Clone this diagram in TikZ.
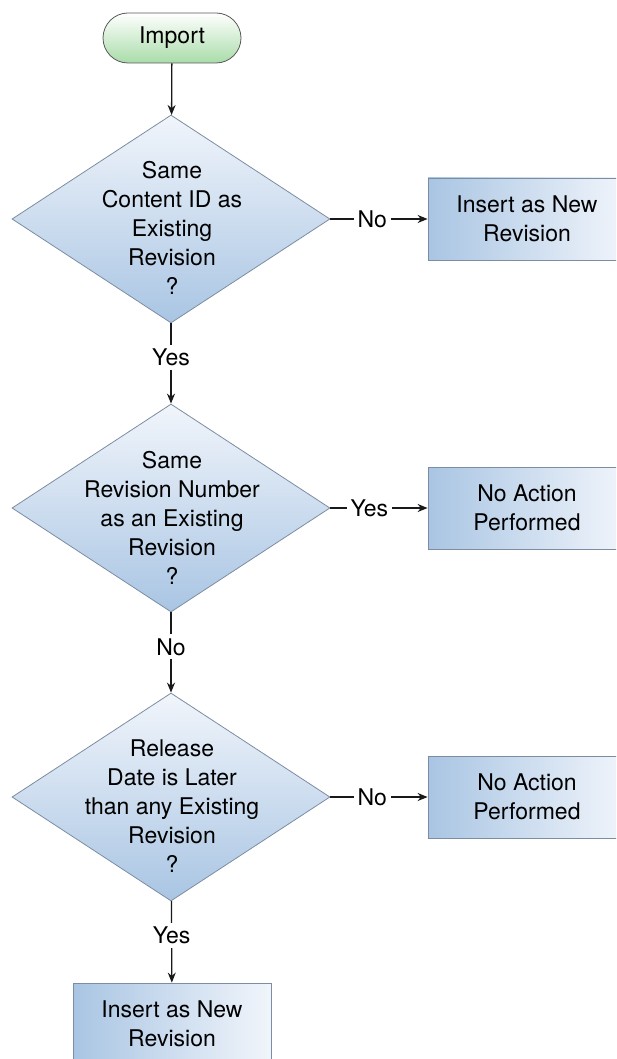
\documentclass[tikz,border=0pt]{standalone}
\usepackage{fontspec}
\setmainfont{TeX Gyre Heros}
\usetikzlibrary{positioning, shapes.geometric, shapes.misc, arrows.meta}
\definecolor{myblue}{HTML}{A9C5E3}
\definecolor{mylightblue}{HTML}{F1F5FB}
\definecolor{mygreen}{HTML}{A9DCA9}
\definecolor{myborder}{HTML}{7C8DA1}
\tikzset{
	startnode/.style={
			rounded rectangle,
			draw=gray!70!black,
			line width=0.8pt,
			top color=white,
			bottom color=mygreen,
			minimum width=138pt,
			minimum height=50pt,
			inner sep=0pt
		},
	decisionnode/.style={
			diamond,
			draw=myborder,
			line width=0.8pt,
			top color=mylightblue,
			bottom color=myblue,
			minimum width=318pt,
			minimum height=208pt,
			inner sep=0pt
		},
	decisiontext/.style={
			align=center,
			inner sep=0pt
		},
	actionnode/.style={
			rectangle,
			draw=myborder,
			line width=0.8pt,
			left color=myblue,
			right color=mylightblue,
			minimum width=198pt,
			minimum height=82pt,
			align=center,
			inner sep=0pt
		},
	flowline/.style={
			draw=black!90,
			line width=1.3pt,
			-{Stealth[length=10pt, width=8pt]}
		},
	flowlabel/.style={
			fill=white,
			inner sep=4pt
		},
	every node/.append style={font=\fontsize{23}{29}\selectfont}
}
\begin{document}
\begin{tikzpicture}[x=1pt, y=-1pt]
\clip (0,0) rectangle (616,1059);
\fill[white] (0,0) rectangle (616,1059);

\node[startnode] (tImport) at (172,38) {Import};

\node[decisionnode] (tContent) at (171,219) {};
\node[decisiontext] (tContentText) at (172,228) {Same\\Content ID as\\Existing\\Revision\\?};
\node[decisionnode] (tNumber) at (171,508) {};
\node[decisiontext] (tNumberText) at (172,518) {Same\\Revision Number\\as an Existing\\Revision\\?};
\node[decisionnode] (tDate) at (171,797) {};
\node[decisiontext] (tDateText) at (172,806) {Release\\Date is Later\\than any Existing\\Revision\\?};

\node[actionnode] (tInsertA) at (527,219) {Insert as New\\Revision};
\node[actionnode] (tNoActA) at (527,508) {No Action\\Performed};
\node[actionnode] (tNoActB) at (527,797) {No Action\\Performed};
\node[actionnode] (tInsertB) at (172,1024) {Insert as New\\Revision};

\draw[flowline] (tImport) -- (tContent);
\draw[flowline] (tContent) -- node[flowlabel, pos=0.43] {No} (tInsertA);
\draw[flowline] (tContent) -- node[flowlabel, pos=0.42] {Yes} (tNumber);
\draw[flowline] (tNumber) -- node[flowlabel, pos=0.40] {Yes} (tNoActA);
\draw[flowline] (tNumber) -- node[flowlabel, pos=0.43] {No} (tDate);
\draw[flowline] (tDate) -- node[flowlabel, pos=0.43] {No} (tNoActB);
\draw[flowline] (tDate) -- node[flowlabel, pos=0.42] {Yes} (tInsertB);

\end{tikzpicture}
\end{document}
